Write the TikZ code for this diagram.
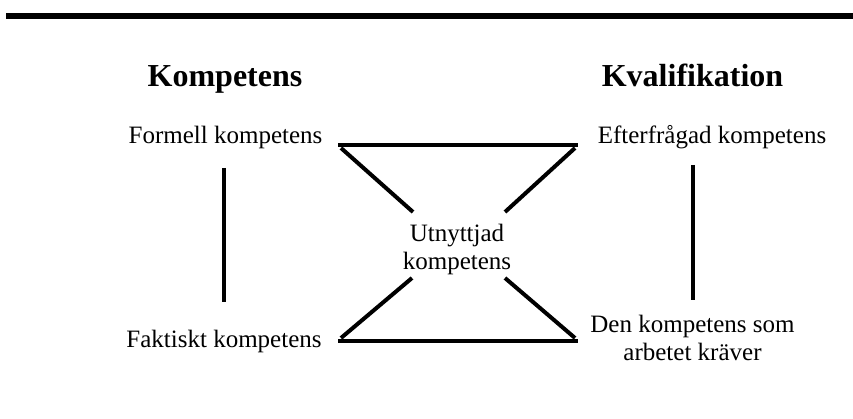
\documentclass[tikz,border=0pt]{standalone}
\usepackage{fontspec}
\setmainfont{Liberation Serif}
\begin{document}
\begin{tikzpicture}[x=1pt,y=-1pt,
  label/.style={inner sep=0pt,anchor=base,font=\fontsize{25}{28}\selectfont},
  heading/.style={inner sep=0pt,anchor=base,font=\fontsize{32}{36}\selectfont\bfseries},
  bar/.style={line width=4pt},
  rule/.style={line width=6pt}]
\useasboundingbox (0,0) rectangle (853,419);

% top rule
\coordinate (ruleL) at (6,16.3);
\coordinate (ruleR) at (853,16.3);
\draw[rule] (ruleL) -- (ruleR);

% column headings
\node[heading] (komp) at (225,86.5) {Kompetens};
\node[heading] (kval) at (692.5,86.5) {Kvalifikation};

% corner labels
\node[label] (formell) at (225.5,143.5) {Formell kompetens};
\node[label] (efter) at (712,143.5) {Efterfrågad kompetens};
\node[label] (faktiskt) at (224,347) {Faktiskt kompetens};
\node[label] (den1) at (692.5,332) {Den kompetens som};
\node[label] (den2) at (692.5,360) {arbetet kräver};

% centre label
\node[label] (utn1) at (457,242) {Utnyttjad};
\node[label] (utn2) at (457,270) {kompetens};

% vertical links
\coordinate (lvT) at (224,168);
\coordinate (lvB) at (224,302);
\coordinate (rvT) at (693,165);
\coordinate (rvB) at (693,300);
\draw[bar] (lvT) -- (lvB);
\draw[bar] (rvT) -- (rvB);

% hourglass
\coordinate (tl) at (338,145);
\coordinate (tr) at (578,145);
\coordinate (bl) at (338,341);
\coordinate (br) at (578,341);
\coordinate (cTL) at (413,212);
\coordinate (cTR) at (505,212);
\coordinate (cBL) at (412,278);
\coordinate (cBR) at (505,278);
\draw[bar] (tl) -- (tr);
\draw[bar] (bl) -- (br);
\draw[bar] ([shift={(3,3)}]tl) -- (cTL);
\draw[bar] ([shift={(-3,3)}]tr) -- (cTR);
\draw[bar] ([shift={(3,-3)}]bl) -- (cBL);
\draw[bar] ([shift={(-3,-3)}]br) -- (cBR);
\end{tikzpicture}
\end{document}
